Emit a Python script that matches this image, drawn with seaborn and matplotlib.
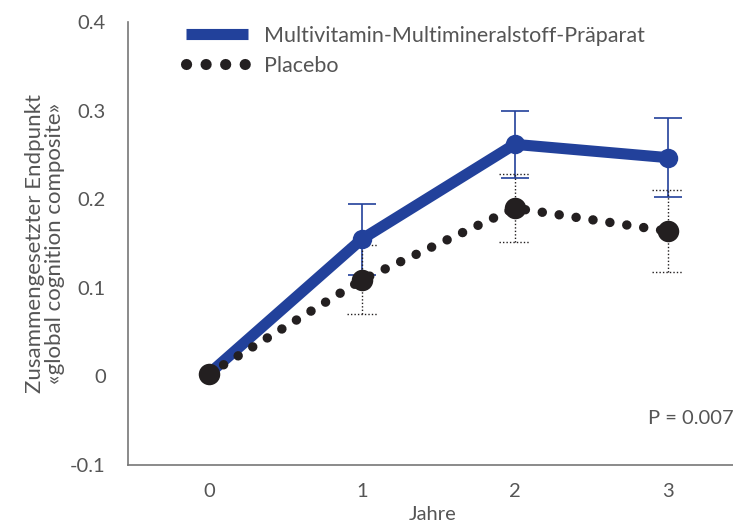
import matplotlib
matplotlib.use('Agg')
import matplotlib.pyplot as plt
from matplotlib.lines import Line2D
import seaborn as sns
import pandas as pd
import numpy as np

sns.set_style('white')
plt.rcParams['font.family'] = ['Lato', 'DejaVu Sans']

years = [0, 1, 2, 3]
mvm_mean = [0.003, 0.155, 0.262, 0.247]
mvm_err = [0.0, 0.040, 0.038, 0.045]
placebo_mean = [0.003, 0.109, 0.190, 0.164]
placebo_err = [0.0, 0.039, 0.038, 0.046]
labels = ['Multivitamin-Multimineralstoff-Präparat', 'Placebo']

blue = '#22419b'
dark = '#231f20'
grey = '#555555'
fs = 14.5

df = pd.DataFrame({
    'Jahre': years * 2,
    'value': mvm_mean + placebo_mean,
    'group': [labels[0]] * 4 + [labels[1]] * 4,
})

fig = plt.figure(figsize=(7.33, 5.26), dpi=100)
ax = fig.add_axes([0.1746, 0.116, 0.83, 0.842])

# error bars (year 0 has none)
ax.errorbar(years[1:], mvm_mean[1:], yerr=mvm_err[1:], fmt='none', ecolor=blue,
            elinewidth=1.2, capsize=10, capthick=1.2, zorder=2)
eb = ax.errorbar(years[1:], placebo_mean[1:], yerr=placebo_err[1:], fmt='none',
                 ecolor=dark, elinewidth=1.0, capsize=0, zorder=2)
for c in eb[2]:
    c.set_linestyle((0, (1, 1.5)))
cap_half = 0.1
for x, m, e in zip(years[1:], placebo_mean[1:], placebo_err[1:]):
    ax.hlines([m - e, m + e], x - cap_half, x + cap_half, colors=dark,
              linewidth=1.0, linestyles=(0, (1, 1.5)), zorder=2)

sns.lineplot(data=df[df.group == labels[0]], x='Jahre', y='value', ax=ax,
             color=blue, linewidth=8, marker='o', markersize=14,
             markeredgewidth=0, legend=False, zorder=3)
sns.lineplot(data=df[df.group == labels[1]], x='Jahre', y='value', ax=ax,
             color=dark, linewidth=6.8, legend=False, zorder=4)
pl = ax.get_lines()[-1]
pl.set_linestyle((0, (0.01, 1.8)))
pl.set_dash_capstyle('round')
ax.scatter(years, placebo_mean, s=240, color=dark, zorder=5, linewidths=0)

ax.set_xlim(-0.53, 3.45)
ax.set_ylim(-0.1, 0.4)
ax.set_xticks(years)
ax.set_xticklabels(['0', '1', '2', '3'])
ax.set_yticks([-0.1, 0, 0.1, 0.2, 0.3, 0.4])
ax.set_yticklabels(['-0.1', '0', '0.1', '0.2', '0.3', '0.4'])
ax.tick_params(axis='both', length=0, labelsize=fs, colors=grey, pad=13)
ax.tick_params(axis='y', pad=16)

for s in ['top', 'right']:
    ax.spines[s].set_visible(False)
for s in ['left', 'bottom']:
    ax.spines[s].set_color('#777777')
    ax.spines[s].set_linewidth(1.2)

ax.set_xlabel('Jahre', fontsize=fs, color=grey, labelpad=4)
ax.set_ylabel('Zusammengesetzter Endpunkt\n«global cognition composite»',
              fontsize=16, color=grey, labelpad=4, linespacing=1.0)

ax.text(0.995, 0.106, 'P = 0.007', transform=ax.transAxes, ha='right', va='center',
        fontsize=fs, color=grey)

handles = [
    Line2D([], [], color=blue, linewidth=8, solid_capstyle='butt'),
    Line2D([], [], color=dark, linewidth=8, linestyle=(0, (0.01, 1.75)),
           dash_capstyle='round'),
]
leg = ax.legend(handles, labels, loc='upper left', bbox_to_anchor=(0.063, 1.035),
                frameon=False, fontsize=15.5, handlelength=2.9, handletextpad=0.75,
                labelspacing=0.45)
for t in leg.get_texts():
    t.set_color(grey)

fig.savefig('out.png', dpi=100)
